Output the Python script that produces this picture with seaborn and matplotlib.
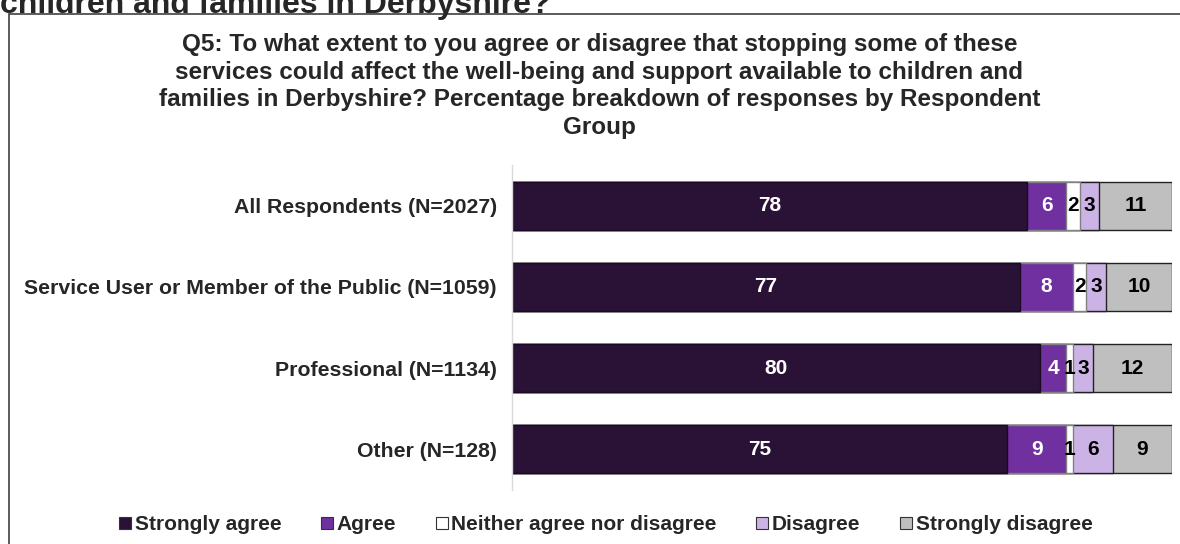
import matplotlib
matplotlib.use("Agg")
import matplotlib.pyplot as plt
import seaborn as sns
import pandas as pd
import numpy as np
from matplotlib.patches import Rectangle
from matplotlib.lines import Line2D

# data
groups = ["All Respondents (N=2027)",
          "Service User or Member of the Public (N=1059)",
          "Professional (N=1134)",
          "Other (N=128)"]
strongly_agree = [78, 77, 80, 75]
agree = [6, 8, 4, 9]
neither = [2, 2, 1, 1]
disagree = [3, 3, 3, 6]
strongly_disagree = [11, 10, 12, 9]

answers = ["Strongly agree", "Agree", "Neither agree nor disagree",
           "Disagree", "Strongly disagree"]
colours = ["#2a1237", "#7030a0", "#ffffff", "#ccb3e6", "#bfbfbf"]
edges = ["#1a0a22", "#808080", "#808080", "#222222", "#222222"]
txt_col = ["white", "white", "black", "black", "black"]

sns.set_style("white")
plt.rcParams['font.family'] = ['Liberation Sans', 'DejaVu Sans']
plt.rcParams['font.weight'] = 'bold'

df = pd.DataFrame({"group": groups, answers[0]: strongly_agree, answers[1]: agree,
                   answers[2]: neither, answers[3]: disagree, answers[4]: strongly_disagree})
cum = df[answers].cumsum(axis=1)

fig = plt.figure(figsize=(11.8, 5.44), dpi=100)
ax = fig.add_axes([512/1180, 1-490/544, 660/1180, 325/544])

# stacked bars: draw cumulative totals from the right-most answer back
for i in range(len(answers)-1, -1, -1):
    d = pd.DataFrame({"group": groups, "val": cum[answers[i]]})
    sns.barplot(data=d, x="val", y="group", order=groups, orient="h",
                color=colours[i], saturation=1, width=0.59,
                edgecolor=edges[i], linewidth=1, ax=ax)

for i, a in enumerate(answers):
    for j in range(len(groups)):
        v = df[a][j]
        ax.text(cum[a][j] - v/2, j, str(v), ha="center", va="center",
                color=txt_col[i], fontsize=15, fontweight="bold")

ax.set_xlim(0, 100)
ax.set_ylim(3.5, -0.5)
ax.set_xlabel("")
ax.set_ylabel("")
ax.set_xticks([])
ax.tick_params(axis="y", length=0, pad=11, labelsize=15.3)
for t in ax.get_yticklabels():
    t.set_fontweight("bold")
for s in ["top", "right", "bottom"]:
    ax.spines[s].set_visible(False)
ax.spines["left"].set_color("#d9d9d9")
ax.spines["left"].set_linewidth(1)

# chart area border
fig.patches.append(Rectangle((9/1180, -0.1), 1.2, 1.1 - 14/544, transform=fig.transFigure,
                             fill=False, edgecolor="#404040", linewidth=1.2, zorder=0))

fig.text(0.0, 1-12.5/544, "children and families in Derbyshire?", ha="left", va="baseline",
         fontsize=23, fontweight="bold")
fig.text(0.508, 1-33/544,
         "Q5: To what extent to you agree or disagree that stopping some of these\n"
         "services could affect the well-being and support available to children and\n"
         "families in Derbyshire? Percentage breakdown of responses by Respondent\n"
         "Group", ha="center", va="top", fontsize=17.5, fontweight="bold", linespacing=1.26)

handles = [Line2D([], [], marker="s", linestyle="", markersize=9, markerfacecolor=c,
                  markeredgecolor="#333333", markeredgewidth=0.8) for c in colours]
fig.legend(handles, answers, loc="center", bbox_to_anchor=(0.512, 1-525/544), ncol=5,
           frameon=False, prop={"size": 15, "weight": "bold"}, handletextpad=0.0,
           columnspacing=1.75, handlelength=0.9)

fig.savefig("out.png", dpi=100)
